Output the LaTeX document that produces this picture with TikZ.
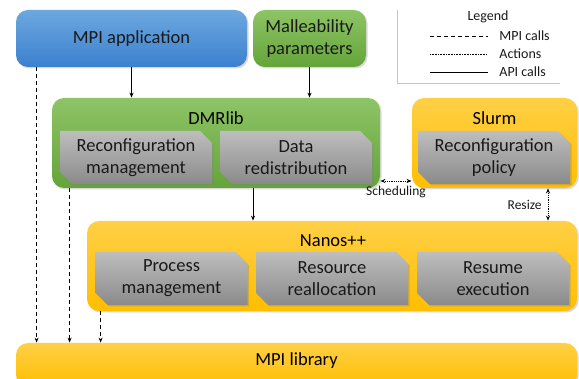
\documentclass[tikz,border=0pt]{standalone}
\usepackage{fontspec}
\setmainfont{Carlito}
\usetikzlibrary{arrows.meta,shapes.misc,shadows}

\definecolor{apptop}{RGB}{108,168,224}
\definecolor{appbot}{RGB}{60,128,206}
\definecolor{grntop}{RGB}{142,196,102}
\definecolor{grnbot}{RGB}{100,164,58}
\definecolor{yeltop}{RGB}{255,208,70}
\definecolor{yelbot}{RGB}{255,190,0}
\definecolor{grytop}{RGB}{190,190,190}
\definecolor{grybot}{RGB}{138,138,138}
\definecolor{txt}{RGB}{25,25,25}

\tikzset{
  outer/.style={rounded corners=12pt, text=txt, inner sep=0pt,
    drop shadow={opacity=0.3, shadow xshift=1.5pt, shadow yshift=-1.5pt}},
  appbox/.style={outer, top color=apptop, bottom color=appbot},
  grnbox/.style={outer, top color=grntop, bottom color=grnbot},
  yelbox/.style={outer, top color=yeltop, bottom color=yelbot},
  part/.style={chamfered rectangle, chamfered rectangle corners={north east,south west},
    chamfered rectangle xsep=6pt, chamfered rectangle ysep=6pt,
    minimum width=152pt, minimum height=53pt, inner sep=0pt,
    top color=grytop, bottom color=grybot, text=txt, align=center,
    font=\fontsize{18.5}{22}\selectfont,
    drop shadow={opacity=0.35, shadow xshift=1.5pt, shadow yshift=-1.5pt}},
  big/.style={font=\fontsize{18.5}{22}\selectfont, align=center},
  small/.style={font=\fontsize{14}{16}\selectfont, text=txt, inner sep=0pt},
  tiny/.style={font=\fontsize{13.5}{15}\selectfont, text=txt, inner sep=0pt},
  mpicall/.style={dashed, dash pattern=on 4pt off 3pt, -{Stealth[length=5pt,width=4pt]}},
  action/.style={densely dotted, {Stealth[length=5pt,width=4pt]}-{Stealth[length=5pt,width=4pt]}},
  apicall/.style={-{Stealth[length=5pt,width=4pt]}}
}

\begin{document}
\begin{tikzpicture}[x=1pt,y=-1pt,line width=0.8pt]
\useasboundingbox (0,0) rectangle (579,379);

   % top row
   \node[appbox,big,minimum width=231pt,minimum height=57pt] at (131.5,38.5) (app) {MPI application};
   \node[grnbox,big,minimum width=113pt,minimum height=57pt] at (309.5,38.5) (param) {Malleability\\parameters};

   % legend
   \draw[gray!45,line width=0.6pt] (397,10) -- (397,83) -- (560,83);
   \node[small] at (488,17) (legend) {Legend};
   \node[small,anchor=west] at (499,36) (lmpi) {MPI calls};
   \node[small,anchor=west] at (499,54) (lact) {Actions};
   \node[small,anchor=west] at (499,72) (lapi) {API calls};
   \draw[dashed, dash pattern=on 4pt off 3pt] ([xshift=-69]lmpi.west) -- ([xshift=-11]lmpi.west);
   \draw[densely dotted,line width=0.6pt] ([xshift=-69]lact.west) -- ([xshift=-12]lact.west);
   \draw ([xshift=-69]lapi.west) -- ([xshift=-11]lapi.west);

   % middle row
   \node[grnbox,minimum width=328pt,minimum height=90pt] at (216,143) (dmr) {};
   \node[big] at (216,118) (dmrt) {DMRlib};
   \node[part] at (136,157.5) (recon) {Reconfiguration\\management};
   \node[part] at (296,157.5) (data) {Data\\redistribution};

   \node[yelbox,minimum width=165pt,minimum height=90pt] at (494.5,143) (slurm) {};
   \node[big] at (494.5,118) (slurmt) {Slurm};
   \node[part] at (494,157.5) (policy) {Reconfiguration\\policy};

   % runtime
   \node[yelbox,minimum width=490pt,minimum height=90pt] at (332,266) (nanos) {};
   \node[big] at (333,241) (nanost) {Nanos++};
   \node[part] at (171.5,278.5) (proc) {Process\\management};
   \node[part] at (332,278.5) (resal) {Resource\\reallocation};
   \node[part] at (493,278.5) (resume) {Resume\\execution};

   \node[yelbox,big,minimum width=561pt,minimum height=44pt] at (296.5,365) (mpilib) {};
   \node[big] at (296.5,361) (mpilibt) {MPI library};

   % API calls
   \draw[apicall] (app.south) -- (app.south |- dmr.north);
   \draw[apicall] (param.south) -- (param.south |- dmr.north);
   \draw[apicall] ([xshift=37]dmr.south) -- ([xshift=37]dmr.south |- nanos.north);

   % MPI calls
   \draw[mpicall] ([xshift=21]app.south west) -- ([xshift=21]app.south west |- mpilib.north);
   \draw[mpicall] ([xshift=18]dmr.south west) -- ([xshift=18]dmr.south west |- mpilib.north);
   \draw[mpicall] ([xshift=14]nanos.south west) -- ([xshift=14]nanos.south west |- mpilib.north);

   % actions
   \draw[action] ([yshift=-38]dmr.east) -- ([yshift=-38]slurm.west)
        node[midway,below=5pt,tiny] {Scheduling};
   \draw[action] ([xshift=53.5]slurm.south) -- ([xshift=53.5]slurm.south |- nanos.north)
        node[midway,left=6pt,tiny] {Resize};

\end{tikzpicture}
\end{document}
